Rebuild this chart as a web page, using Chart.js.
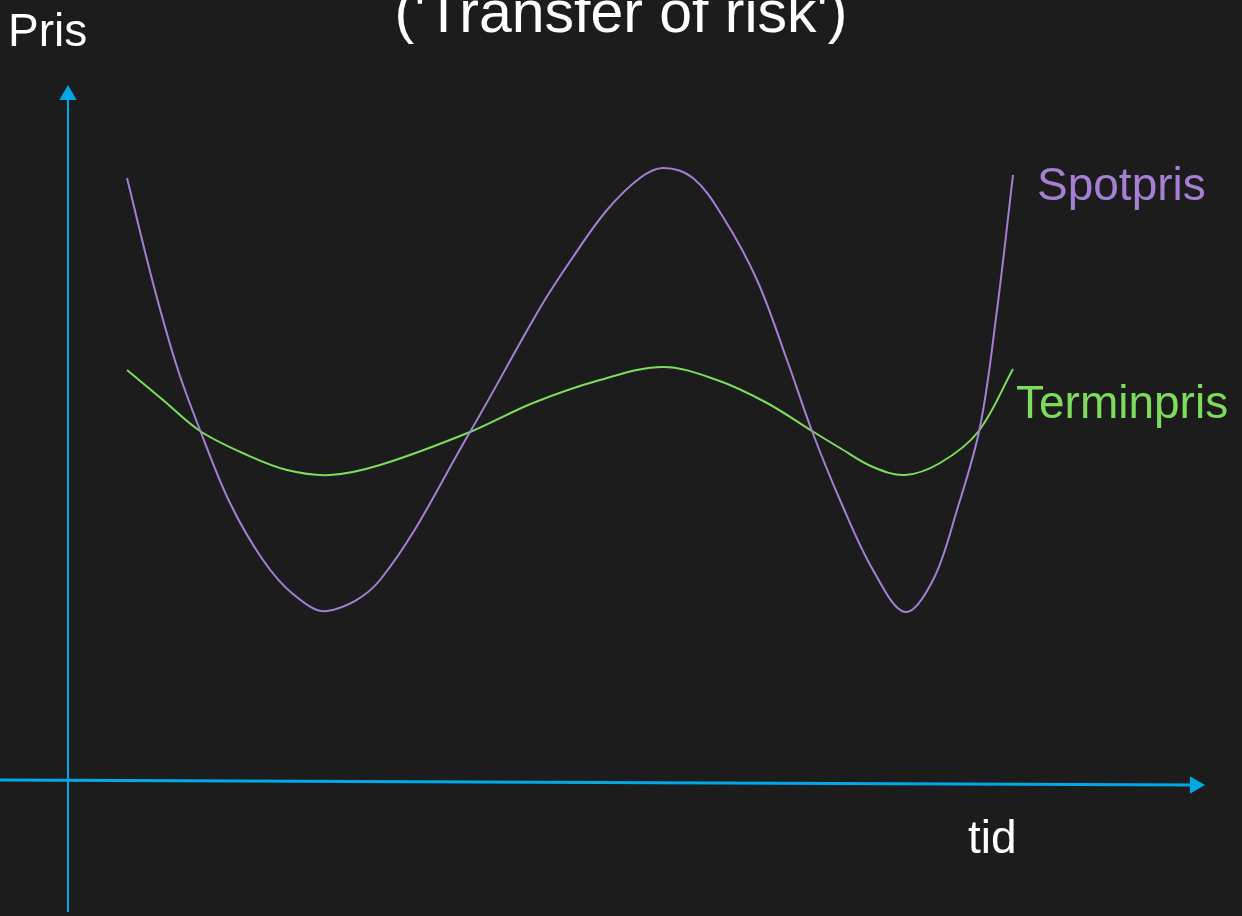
<!DOCTYPE html>
<html>
<head>
<meta charset="utf-8">
<script src="https://cdn.jsdelivr.net/npm/chart.js@4/dist/chart.umd.min.js"></script>
<style>
  html, body { margin: 0; padding: 0; background: #1c1c1c; }
  #wrap { width: 1242px; height: 916px; position: relative; }
</style>
</head>
<body>
<div id="wrap"><canvas id="risk-chart"></canvas></div>
<script>
// Spotpris vs Terminpris (schematic), time on x, price on y
const spotTime = [0.59, 0.85, 1.09, 1.32, 1.62, 1.95, 2.25, 2.59, 3.12, 4.02, 4.72, 5.05, 5.39, 5.72, 5.95, 6.25, 6.55, 6.89, 7.19, 7.44, 7.72, 8.05, 8.37, 8.65, 8.89, 9.12, 9.29, 9.45];
const spotPrice = [6.02, 4.97, 4.13, 3.50, 2.77, 2.20, 1.86, 1.69, 2.00, 3.48, 4.72, 5.23, 5.70, 6.02, 6.12, 6.02, 5.63, 5.00, 4.20, 3.49, 2.80, 2.10, 1.68, 2.00, 2.70, 3.53, 4.70, 6.05];

const forwardTime = [0.59, 0.95, 1.32, 1.79, 2.19, 2.62, 3.12, 4.02, 4.65, 5.32, 5.95, 6.49, 6.99, 7.44, 7.72, 8.05, 8.37, 8.72, 9.10, 9.45];
const forwardPrice = [4.10, 3.80, 3.49, 3.25, 3.10, 3.05, 3.15, 3.48, 3.77, 4.00, 4.13, 4.00, 3.77, 3.49, 3.32, 3.13, 3.05, 3.17, 3.48, 4.11];

// axis arrows (start, end) in data units
const xAxisTime = [-0.68, 11.27];
const xAxisPrice = [0.0, -0.05];
const yAxisTime = [0, 0];
const yAxisPrice = [-1.32, 6.85];

const titleText = "('Transfer of risk')";
const yLabel = 'Pris';
const xLabel = 'tid';
const spotLabel = 'Spotpris';
const forwardLabel = 'Terminpris';

const COLORS = {
    bg: '#1c1c1c',
    axis: '#00a9e6',
    spot: '#a47fd4',
    forward: '#7ddc5c',
    text: '#ffffff'
};
const FONT = '"Liberation Sans", Arial, sans-serif';

function toPoints(xs, ys) {
    return xs.map((x, i) => ({ x: x, y: ys[i] }));
}

// Background + text labels, positioned through the scales
const labelsPlugin = {
    id: 'labels',
    beforeDraw(chart) {
        const ctx = chart.ctx;
        ctx.save();
        ctx.fillStyle = COLORS.bg;
        ctx.fillRect(0, 0, chart.width, chart.height);
        ctx.restore();
    },
    afterDraw(chart) {
        const ctx = chart.ctx;
        const xs = chart.scales.x;
        const ys = chart.scales.y;
        ctx.save();
        ctx.textBaseline = 'alphabetic';

        ctx.font = '59px ' + FONT;
        ctx.fillStyle = COLORS.text;
        ctx.textAlign = 'center';
        ctx.fillText(titleText, chart.width / 2, 32);

        ctx.font = '46px ' + FONT;
        ctx.textAlign = 'left';
        ctx.fillText(yLabel, xs.getPixelForValue(0) - 60, 46);
        ctx.fillText(xLabel, xs.getPixelForValue(9.0), ys.getPixelForValue(-0.73));

        const spotEnd = spotTime.length - 1;
        ctx.fillStyle = COLORS.spot;
        ctx.fillText(spotLabel, xs.getPixelForValue(spotTime[spotEnd]) + 24, ys.getPixelForValue(spotPrice[spotEnd]) + 25);

        const fwdEnd = forwardTime.length - 1;
        ctx.fillStyle = COLORS.forward;
        ctx.fillText(forwardLabel, xs.getPixelForValue(forwardTime[fwdEnd]) + 3, ys.getPixelForValue(forwardPrice[fwdEnd]) + 49);
        ctx.restore();
    }
};

const ctx = document.getElementById('risk-chart').getContext('2d');
new Chart(ctx, {
    type: 'line',
    data: {
        datasets: [
            {
                label: 'x-axis',
                data: toPoints(xAxisTime, xAxisPrice),
                borderColor: COLORS.axis,
                backgroundColor: COLORS.axis,
                borderWidth: 3,
                pointStyle: 'triangle',
                pointRadius: [0, 10],
                pointRotation: 90,
                pointBorderWidth: 0
            },
            {
                label: 'y-axis',
                data: toPoints(yAxisTime, yAxisPrice),
                borderColor: COLORS.axis,
                backgroundColor: COLORS.axis,
                borderWidth: 2,
                pointStyle: 'triangle',
                pointRadius: [0, 10],
                pointBorderWidth: 0
            },
            {
                label: spotLabel,
                data: toPoints(spotTime, spotPrice),
                borderColor: COLORS.spot,
                borderWidth: 2,
                pointRadius: 0,
                tension: 0.35
            },
            {
                label: forwardLabel,
                data: toPoints(forwardTime, forwardPrice),
                borderColor: COLORS.forward,
                borderWidth: 2,
                pointRadius: 0,
                tension: 0.35
            }
        ]
    },
    options: {
        responsive: true,
        maintainAspectRatio: false,
        animation: false,
        layout: { padding: 0, autoPadding: false },
        plugins: {
            legend: { display: false },
            tooltip: { enabled: false },
            title: { display: false }
        },
        scales: {
            x: { type: 'linear', min: -0.68, max: 11.74, display: false },
            y: { type: 'linear', min: -1.36, max: 7.80, display: false }
        }
    },
    plugins: [labelsPlugin]
});
</script>
</body>
</html>
